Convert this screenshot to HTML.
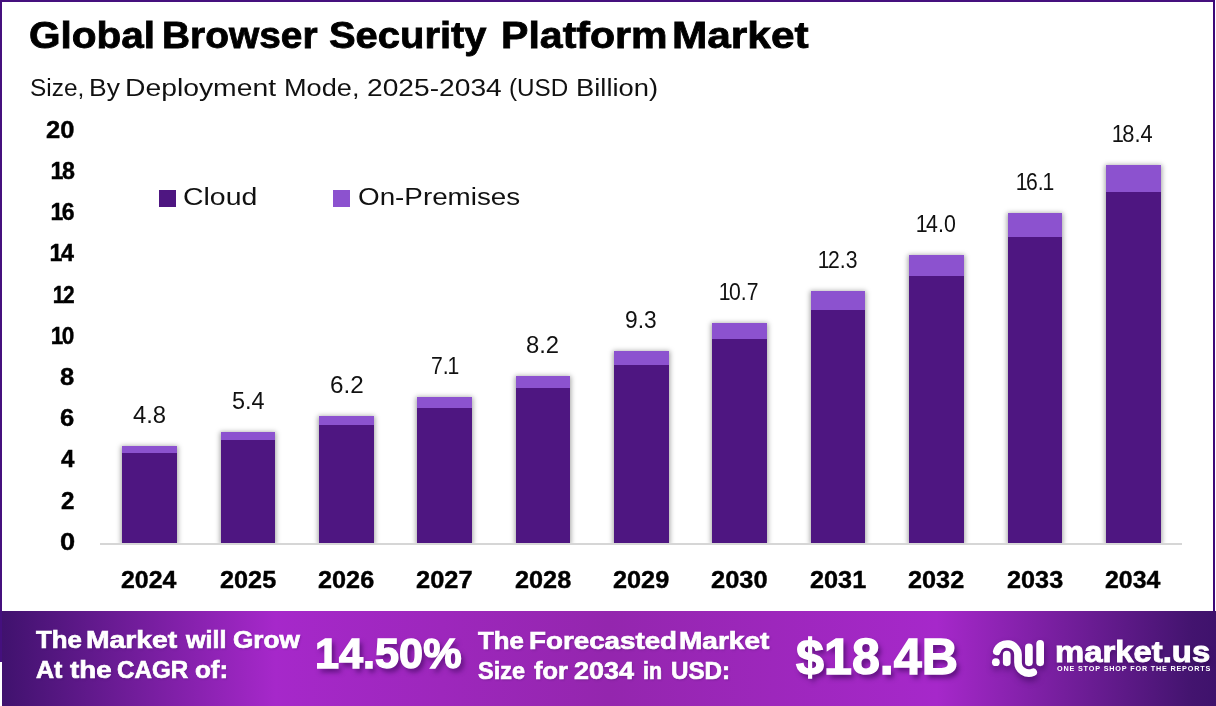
<!DOCTYPE html>
<html><head><meta charset="utf-8"><title>Global Browser Security Platform Market</title>
<style>
html,body{margin:0;padding:0;background:#fff;}
body{width:1216px;height:706px;position:relative;overflow:hidden;font-family:"Liberation Sans",sans-serif;}
.t{position:absolute;white-space:pre;line-height:1;transform-origin:0 0;font-kerning:none;}
.ln{position:absolute;left:0;white-space:pre;line-height:1;font-kerning:none;}
.w{position:absolute;top:0;transform-origin:0 0;}
.o{font-weight:inherit;margin-left:-0.06em;margin-right:-0.07em;}
#plot{position:absolute;left:0;top:0;width:1216px;height:543px;overflow:hidden;}
.bar{position:absolute;background:#4e1681;box-shadow:0 1px 5px 1px rgba(0,0,0,.36);}
.bar i{display:block;background:#8c52cf;width:100%;}
#axis{position:absolute;left:100px;top:543px;width:1082px;height:2px;background:#d6d6d6;}
.lg{position:absolute;top:190px;width:16.5px;height:17px;}
#bt{position:absolute;left:0;top:0;width:1215px;height:2px;background:#45107e;}
#bl{position:absolute;left:0;top:0;width:2px;height:662px;background:#45107e;}
#br{position:absolute;left:1213px;top:0;width:2px;height:611px;background:#3d0878;}
#foot{position:absolute;left:2px;top:611px;width:1214px;height:95px;
 background:linear-gradient(90deg,#40126e 0%,#a628ca 22.5%,#9426ae 50%,#a628ca 77%,#43146f 98%,#3f126c 100%);}
</style></head><body>
<div id="plot">
<div class="bar" style="left:122px;top:446px;width:55.0px;height:97px"><i style="height:7px"></i></div>
<div class="bar" style="left:221px;top:432px;width:54.3px;height:111px"><i style="height:8px"></i></div>
<div class="bar" style="left:319px;top:416px;width:55.0px;height:127px"><i style="height:9px"></i></div>
<div class="bar" style="left:417px;top:397px;width:55.0px;height:146px"><i style="height:11px"></i></div>
<div class="bar" style="left:516px;top:376px;width:54.3px;height:167px"><i style="height:12px"></i></div>
<div class="bar" style="left:614px;top:351px;width:55.0px;height:192px"><i style="height:14px"></i></div>
<div class="bar" style="left:712px;top:323px;width:55.0px;height:220px"><i style="height:16px"></i></div>
<div class="bar" style="left:811px;top:291px;width:54.3px;height:252px"><i style="height:19px"></i></div>
<div class="bar" style="left:909px;top:255px;width:55.0px;height:288px"><i style="height:21px"></i></div>
<div class="bar" style="left:1008px;top:213px;width:54.3px;height:330px"><i style="height:24px"></i></div>
<div class="bar" style="left:1106px;top:165px;width:55.0px;height:378px"><i style="height:27px"></i></div>
</div>
<div id="axis"></div>
<div class="lg" style="left:159.1px;background:#4e1681"></div>
<div class="lg" style="left:333.1px;background:#8c52cf"></div>
<div id="foot"></div>
<div id="bt"></div><div id="bl"></div><div id="br"></div>
<svg style="position:absolute;left:0;top:0;filter:drop-shadow(1px 4px 3px rgba(40,0,70,.5))" width="1216" height="706" viewBox="0 0 1216 706">
<g fill="none" stroke="#fff" stroke-width="7.7" stroke-linecap="round">
<path d="M996.8 651.4 A10.9 10.9 0 0 1 1018 654.6 L1018 662.1 A11 11 0 0 0 1033.2 672.3"/>
<path d="M1006.75 654.7 V662.3"/>
<path d="M1028.9 647.4 V662.3"/>
<path d="M1040.15 643.8 V662.3"/>
</g>
<circle cx="995.85" cy="662.2" r="3.9" fill="#fff"/>
</svg>
<div class="t" style="left:45.90px;top:118.00px;font-size:24.04px;font-weight:700;color:#000;transform:scaleX(1.0636);-webkit-text-stroke:0.4px #000;">20</div>
<div class="t" style="left:51.54px;top:159.00px;font-size:24.04px;font-weight:700;color:#000;transform:scaleX(0.9673);-webkit-text-stroke:0.4px #000;"><b class="o">1</b>8</div>
<div class="t" style="left:51.74px;top:200.00px;font-size:24.04px;font-weight:700;color:#000;transform:scaleX(0.9585);-webkit-text-stroke:0.4px #000;"><b class="o">1</b>6</div>
<div class="t" style="left:50.94px;top:241.00px;font-size:24.04px;font-weight:700;color:#000;transform:scaleX(0.9704);-webkit-text-stroke:0.4px #000;"><b class="o">1</b>4</div>
<div class="t" style="left:54.15px;top:283.00px;font-size:24.04px;font-weight:700;color:#000;transform:scaleX(0.8714);-webkit-text-stroke:0.4px #000;"><b class="o">1</b>2</div>
<div class="t" style="left:52.44px;top:324.00px;font-size:24.04px;font-weight:700;color:#000;transform:scaleX(0.9390);-webkit-text-stroke:0.4px #000;"><b class="o">1</b>0</div>
<div class="t" style="left:60.40px;top:365.00px;font-size:24.04px;font-weight:700;color:#000;transform:scaleX(1.0651);-webkit-text-stroke:0.4px #000;">8</div>
<div class="t" style="left:60.40px;top:406.00px;font-size:24.04px;font-weight:700;color:#000;transform:scaleX(1.0651);-webkit-text-stroke:0.4px #000;">6</div>
<div class="t" style="left:60.50px;top:447.00px;font-size:24.04px;font-weight:700;color:#000;transform:scaleX(1.0059);-webkit-text-stroke:0.4px #000;">4</div>
<div class="t" style="left:61.04px;top:489.00px;font-size:24.04px;font-weight:700;color:#000;transform:scaleX(1.0068);-webkit-text-stroke:0.4px #000;">2</div>
<div class="t" style="left:60.15px;top:530.00px;font-size:24.04px;font-weight:700;color:#000;transform:scaleX(1.1338);-webkit-text-stroke:0.4px #000;">0</div>
<div class="t" style="left:183.07px;top:185.00px;font-size:24.32px;color:#111;transform:scaleX(1.1698);">Cloud</div>
<div class="t" style="left:357.50px;top:185.00px;font-size:24.32px;color:#111;transform:scaleX(1.1436);">On-Premises</div>
<div class="t" style="left:133.43px;top:403.00px;font-size:24.60px;color:#111;transform:scaleX(0.9689);">4.8</div>
<div class="t" style="left:121.32px;top:568.00px;font-size:24.32px;font-weight:700;color:#000;transform:scaleX(1.0244);-webkit-text-stroke:0.4px #000;">2024</div>
<div class="t" style="left:231.77px;top:389.00px;font-size:24.60px;color:#111;transform:scaleX(0.9536);">5.4</div>
<div class="t" style="left:219.96px;top:568.00px;font-size:24.32px;font-weight:700;color:#000;transform:scaleX(1.0391);-webkit-text-stroke:0.4px #000;">2025</div>
<div class="t" style="left:329.86px;top:373.00px;font-size:24.60px;color:#111;transform:scaleX(0.9859);">6.2</div>
<div class="t" style="left:318.31px;top:568.00px;font-size:24.32px;font-weight:700;color:#000;transform:scaleX(1.0391);-webkit-text-stroke:0.4px #000;">2026</div>
<div class="t" style="left:430.66px;top:354.00px;font-size:24.60px;color:#111;transform:scaleX(0.8600);">7.<b class="o">1</b></div>
<div class="t" style="left:416.30px;top:568.00px;font-size:24.32px;font-weight:700;color:#000;transform:scaleX(1.0467);-webkit-text-stroke:0.4px #000;">2027</div>
<div class="t" style="left:526.26px;top:333.00px;font-size:24.60px;color:#111;transform:scaleX(0.9680);">8.2</div>
<div class="t" style="left:514.96px;top:568.00px;font-size:24.32px;font-weight:700;color:#000;transform:scaleX(1.0391);-webkit-text-stroke:0.4px #000;">2028</div>
<div class="t" style="left:624.73px;top:308.00px;font-size:24.60px;color:#111;transform:scaleX(0.9235);">9.3</div>
<div class="t" style="left:613.31px;top:568.00px;font-size:24.32px;font-weight:700;color:#000;transform:scaleX(1.0391);-webkit-text-stroke:0.4px #000;">2029</div>
<div class="t" style="left:720.29px;top:280.00px;font-size:24.60px;color:#111;transform:scaleX(0.8600);"><b class="o">1</b>0.7</div>
<div class="t" style="left:711.30px;top:568.00px;font-size:24.32px;font-weight:700;color:#000;transform:scaleX(1.0467);-webkit-text-stroke:0.4px #000;">2030</div>
<div class="t" style="left:818.59px;top:248.00px;font-size:24.60px;color:#111;transform:scaleX(0.8600);"><b class="o">1</b>2.3</div>
<div class="t" style="left:809.96px;top:568.00px;font-size:24.32px;font-weight:700;color:#000;transform:scaleX(1.0391);-webkit-text-stroke:0.4px #000;">2031</div>
<div class="t" style="left:916.95px;top:212.00px;font-size:24.60px;color:#111;transform:scaleX(0.8679);"><b class="o">1</b>4.0</div>
<div class="t" style="left:908.31px;top:568.00px;font-size:24.32px;font-weight:700;color:#000;transform:scaleX(1.0391);-webkit-text-stroke:0.4px #000;">2032</div>
<div class="t" style="left:1016.87px;top:170.00px;font-size:24.60px;color:#111;transform:scaleX(0.8600);"><b class="o">1</b>6.<b class="o">1</b></div>
<div class="t" style="left:1006.96px;top:568.00px;font-size:24.32px;font-weight:700;color:#000;transform:scaleX(1.0391);-webkit-text-stroke:0.4px #000;">2033</div>
<div class="t" style="left:1113.35px;top:122.00px;font-size:24.60px;color:#111;transform:scaleX(0.8883);"><b class="o">1</b>8.4</div>
<div class="t" style="left:1105.32px;top:568.00px;font-size:24.32px;font-weight:700;color:#000;transform:scaleX(1.0244);-webkit-text-stroke:0.4px #000;">2034</div>
<div class="t" style="left:314.60px;top:632.00px;font-size:43.09px;font-weight:700;color:#fff;transform:scaleX(1.0031);text-shadow:3px 4px 5px rgba(45,0,75,.6);-webkit-text-stroke:1.4px #fff;">14.50%</div>
<div class="t" style="left:796.30px;top:632.00px;font-size:50.35px;font-weight:700;color:#fff;transform:scaleX(0.9981);text-shadow:3px 4px 5px rgba(45,0,75,.6);-webkit-text-stroke:1.4px #fff;">$18.4B</div>
<div class="t" style="left:1055.20px;top:637.00px;font-size:29.74px;font-weight:700;color:#fff;transform:scaleX(1.1044);text-shadow:1px 3px 4px rgba(40,0,70,.5);-webkit-text-stroke:0.9px #fff;">market.us</div>
<div class="t" style="left:1056.57px;top:666.00px;font-size:6.83px;font-weight:700;color:#fff;transform:scaleX(1.0600);letter-spacing:0.761px;">ONE STOP SHOP FOR THE REPORTS</div>
<div class="ln" style="top:17px;font-size:37.69px;font-weight:700;color:#000;-webkit-text-stroke:0.8px #000;"><span class="w" style="left:29.03px;transform:scaleX(1.0759)">Global</span> <span class="w" style="left:161.77px;transform:scaleX(1.0323)">Browser</span> <span class="w" style="left:328.98px;transform:scaleX(1.0594)">Security</span> <span class="w" style="left:501.03px;transform:scaleX(1.0903)">Platform</span> <span class="w" style="left:671.95px;transform:scaleX(1.1248)">Market</span></div>
<div class="ln" style="top:76px;font-size:24.60px;color:#111;"><span class="w" style="left:30.44px;transform:scaleX(0.9925)">Size,</span> <span class="w" style="left:89.23px;transform:scaleX(1.0750)">By</span> <span class="w" style="left:125.49px;transform:scaleX(1.1510)">Deployment</span> <span class="w" style="left:284.38px;transform:scaleX(1.1033)">Mode,</span> <span class="w" style="left:366.68px;transform:scaleX(1.1458)">2025-2034</span> <span class="w" style="left:509.46px;transform:scaleX(0.9856)">(USD</span> <span class="w" style="left:575.56px;transform:scaleX(1.1127)">Billion)</span></div>
<div class="ln" style="top:628px;font-size:24.32px;font-weight:700;color:#fff;text-shadow:1px 1px 2px rgba(50,0,80,.35);-webkit-text-stroke:0.7px #fff;"><span class="w" style="left:36.15px;transform:scaleX(1.0626)">The</span> <span class="w" style="left:86.08px;transform:scaleX(1.1647)">Market</span> <span class="w" style="left:185.94px;transform:scaleX(1.0333)">will</span> <span class="w" style="left:233.23px;transform:scaleX(1.0768)">Grow</span></div>
<div class="ln" style="top:658px;font-size:24.04px;font-weight:700;color:#fff;text-shadow:1px 1px 2px rgba(50,0,80,.35);-webkit-text-stroke:0.7px #fff;"><span class="w" style="left:35.76px;transform:scaleX(1.0415)">At</span> <span class="w" style="left:69.65px;transform:scaleX(1.1536)">the</span> <span class="w" style="left:117.20px;transform:scaleX(1.0049)">CAGR</span> <span class="w" style="left:195.04px;transform:scaleX(1.0807)">of:</span></div>
<div class="ln" style="top:629px;font-size:24.32px;font-weight:700;color:#fff;text-shadow:1px 1px 2px rgba(50,0,80,.35);-webkit-text-stroke:0.7px #fff;"><span class="w" style="left:478.45px;transform:scaleX(1.0603)">The</span> <span class="w" style="left:528.52px;transform:scaleX(1.1414)">Forecasted</span> <span class="w" style="left:678.90px;transform:scaleX(1.1529)">Market</span></div>
<div class="ln" style="top:659px;font-size:24.32px;font-weight:700;color:#fff;text-shadow:1px 1px 2px rgba(50,0,80,.35);-webkit-text-stroke:0.7px #fff;"><span class="w" style="left:478.08px;transform:scaleX(0.9648)">Size</span> <span class="w" style="left:533.65px;transform:scaleX(1.0412)">for</span> <span class="w" style="left:574.01px;transform:scaleX(1.1066)">2034</span> <span class="w" style="left:642.81px;transform:scaleX(0.8828)">in</span> <span class="w" style="left:670.62px;transform:scaleX(0.9949)">USD:</span></div>
</body></html>
